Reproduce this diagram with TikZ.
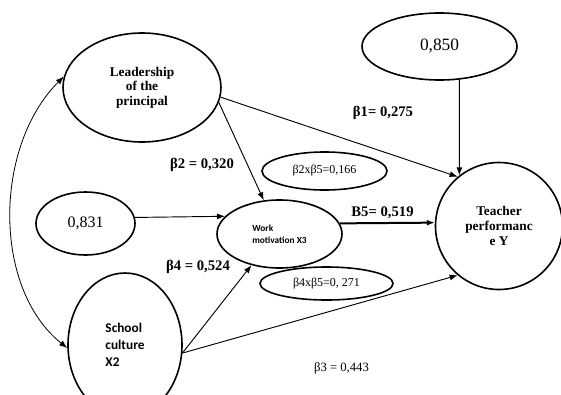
\documentclass[tikz,border=0pt]{standalone}
\usepackage{fontspec}
\setmainfont{Liberation Serif}
\newfontfamily\calibri{Carlito}
\usetikzlibrary{arrows.meta,shapes.geometric}

\begin{document}
\begin{tikzpicture}[x=0.75pt, y=-0.75pt,
  var/.style={draw, ellipse, line width=1.2pt, inner sep=0pt, align=center},
  eff/.style={-{Latex[length=6pt,width=4.5pt]}, line width=0.7pt},
  coef/.style={font=\fontsize{11}{13}\selectfont\bfseries}]
  \useasboundingbox (0,0) rectangle (561,394);
  \clip (0,0) rectangle (561,394);
  \node[var, minimum width=118.5pt, minimum height=81.75pt, font=\fontsize{10}{11}\selectfont\bfseries] (lp) at (142,87.5) {Leadership\\of the\\principal};
  \node[var, minimum width=116.25pt, minimum height=50.25pt, font=\fontsize{13}{15}\selectfont] (ey) at (439.5,46.5) {0,850};
  \node[var, minimum width=74.25pt, minimum height=47.25pt, font=\fontsize{12}{14}\selectfont] (ex) at (85.5,223.5) {0,831};
  \node[var, minimum width=93.75pt, minimum height=51pt, align=left, font=\calibri\fontsize{7}{9}\selectfont\bfseries] (wm) at (279.5,234) {Work\\motivation X3};
  \node[var, minimum width=85.5pt, minimum height=108pt, align=left, font=\calibri\fontsize{10}{12.75}\selectfont\bfseries] (sc) at (125,345) {School\\culture\\X2};
  \node[var, circle, minimum size=95.25pt, font=\fontsize{10}{11.5}\selectfont\bfseries] (tp) at (499,226) {Teacher\\performanc\\e Y};
  \node[var, minimum width=93.75pt, minimum height=28.5pt, font=\fontsize{9}{10}\selectfont] (i25) at (324.5,171) {β2xβ5=0,166};
  \node[var, minimum width=99.75pt, minimum height=24.75pt, font=\fontsize{9}{10}\selectfont] (i45) at (326.5,283.5) {β4xβ5=0, 271};

  % paths
  \draw[{Latex[length=6pt,width=4.5pt]}-{Latex[length=6pt,width=4.5pt]}, line width=0.6pt] (lp.172) .. controls +(-70,70) and +(-75,-60) .. (sc.183);
  \draw[eff] (lp.-7) -- (tp.130.6);
  \draw[eff] (lp.-11) -- (wm.115);
  \draw[eff] (ey.-59) -- (tp.128);
  \draw[eff] (ex.7.6) -- (wm.162.5);
  \draw[eff, line width=1.5pt] (wm.10.5) -- node[coef, above=-1pt, pos=.45] (b5) {B5= 0,519} (tp.177);
  \draw[eff] (sc.-8) -- (wm.228);
  \draw[eff] (sc.-8) -- (tp.230.5);

  \node[coef] (b1) at (383,113) {β1= 0,275};
  \node[coef] (b2) at (202,165) {β2 = 0,320};
  \node[coef] (b4) at (198,267) {β4 = 0,524};
  \node[font=\fontsize{9.5}{11}\selectfont] (b3) at (341.5,368) {β3 = 0,443};
\end{tikzpicture}
\end{document}
